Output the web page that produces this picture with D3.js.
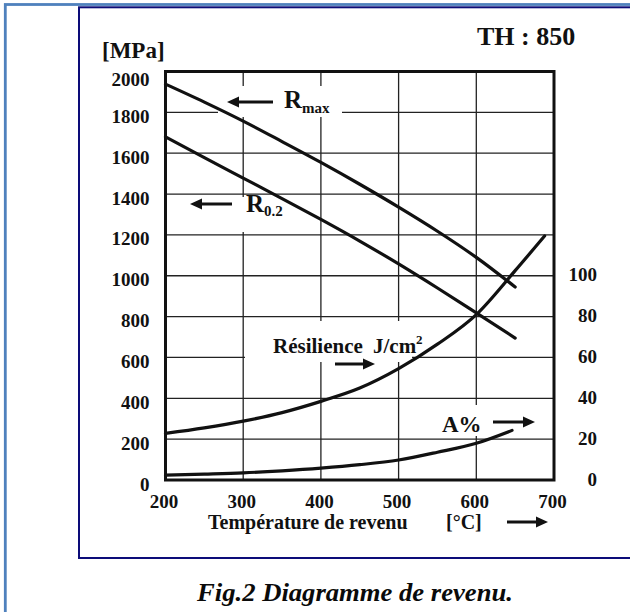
<!DOCTYPE html>
<html>
<head>
<meta charset="utf-8">
<script src="https://cdn.jsdelivr.net/npm/d3@7"></script>
<style>
body { margin: 0; background: #fff; }
text { font-family: "Liberation Serif", "Times New Roman", serif; font-weight: bold; fill: #111; }
</style>
</head>
<body>
<script>
// tempering curves
var temps = [200, 250, 300, 350, 400, 450, 500, 550, 600, 650];
var rMax = [1938, 1850, 1757, 1657, 1555, 1448, 1336, 1218, 1090, 945];
var r02 = [1680, 1578, 1478, 1378, 1276, 1170, 1058, 940, 818, 695];
var resTemps = [200, 250, 300, 350, 400, 450, 500, 550, 600, 650, 688];
var resilience = [22.8, 25.5, 28.8, 33, 38.5, 45, 54.5, 66.5, 81, 102.5, 119.5];
var aTemps = [200, 250, 300, 350, 400, 450, 500, 550, 600, 646];
var elong = [2.4, 2.9, 3.5, 4.5, 5.8, 7.5, 9.8, 13.6, 18, 24.3];
var xTicks = [200, 300, 400, 500, 600, 700];
var yTicks = [0, 200, 400, 600, 800, 1000, 1200, 1400, 1600, 1800, 2000];
var yRightTicks = [0, 20, 40, 60, 80, 100];

var svg = d3.select("body").append("svg")
  .attr("width", 630)
  .attr("height", 612);

// page frames
svg.append("rect")
  .attr("x", 5.3).attr("y", 4.5)
  .attr("width", 700).attr("height", 700)
  .style("fill", "none").style("stroke", "#4f81bd").style("stroke-width", 2.8);
svg.append("rect")
  .attr("x", 79).attr("y", 7.3)
  .attr("width", 600).attr("height", 550.7)
  .style("fill", "none").style("stroke", "#0c0c78").style("stroke-width", 2);

var x = d3.scaleLinear().domain([200, 700]).range([165.5, 554]);
var y = d3.scaleLinear().domain([0, 2000]).range([480, 71.5]);
//right axis shares the grid: 100 J/cm2 sits on 1000 MPa
var yR = d3.scaleLinear().domain([0, 100]).range([480, y(1000)]);
var fmt = d3.format("d");

// grid
var grid = svg.append("g").attr("class", "grid");
grid.selectAll(".hgrid")
  .data(yTicks)
  .enter()
  .append("line")
  .attr("x1", x(200)).attr("x2", x(700))
  .attr("y1", function(d){ return y(d); })
  .attr("y2", function(d){ return y(d); })
  .style("stroke", "#222").style("stroke-width", 1.3);
grid.selectAll(".vgrid")
  .data(xTicks)
  .enter()
  .append("line")
  .attr("x1", function(d){ return x(d); })
  .attr("x2", function(d){ return x(d); })
  .attr("y1", y(0)).attr("y2", y(2000))
  .style("stroke", "#222").style("stroke-width", 1.3);

// white patches behind the annotations (they cut the grid in the scan)
var masks = [[218, 86, 124, 31], [185, 197, 107, 35], [245, 321, 167, 41], [436, 405, 104, 31]];
svg.selectAll(".mask")
  .data(masks)
  .enter()
  .append("rect")
  .attr("x", function(d){ return d[0]; })
  .attr("y", function(d){ return d[1]; })
  .attr("width", function(d){ return d[2]; })
  .attr("height", function(d){ return d[3]; })
  .style("fill", "#fff");

// plot frame
svg.append("rect")
  .attr("x", x(200)).attr("y", y(2000))
  .attr("width", x(700) - x(200)).attr("height", y(0) - y(2000))
  .style("fill", "none").style("stroke", "#111").style("stroke-width", 3);

// axes labels
var leftAxis = svg.append("g")
  .attr("transform", "translate(" + x(200) + ",0)")
  .call(d3.axisLeft(y).tickValues(yTicks).tickFormat(fmt).tickSize(0).tickPadding(16));
leftAxis.select(".domain").remove();
leftAxis.selectAll("text")
  .attr("y", function(d){ return d === 2000 ? 8 : 4; })
  .style("font-size", "19px")
  .style("font-family", "Liberation Serif");

var rightAxis = svg.append("g")
  .attr("transform", "translate(" + x(700) + ",0)")
  .call(d3.axisRight(yR).tickValues(yRightTicks).tickFormat(fmt).tickSize(0));
rightAxis.select(".domain").remove();
rightAxis.selectAll("text")
  .attr("x", 43)
  .attr("y", -1)
  .attr("text-anchor", "end")
  .style("font-size", "19px")
  .style("font-family", "Liberation Serif");

var bottomAxis = svg.append("g")
  .attr("transform", "translate(0," + y(0) + ")")
  .call(d3.axisBottom(x).tickValues(xTicks).tickFormat(fmt).tickSize(0).tickPadding(15));
bottomAxis.select(".domain").remove();
bottomAxis.selectAll("text")
  .attr("x", -2)
  .style("font-size", "19px")
  .style("font-family", "Liberation Serif");

// curves
var lineL = d3.line()
  .x(function(d){ return x(d[0]); })
  .y(function(d){ return y(d[1]); })
  .curve(d3.curveMonotoneX);
var lineR = d3.line()
  .x(function(d){ return x(d[0]); })
  .y(function(d){ return yR(d[1]); })
  .curve(d3.curveMonotoneX);

var curves = [
  lineL(d3.zip(temps, rMax)),
  lineL(d3.zip(temps, r02)),
  lineR(d3.zip(resTemps, resilience)),
  lineR(d3.zip(aTemps, elong))
];
svg.selectAll(".curve")
  .data(curves)
  .enter()
  .append("path")
  .attr("class", "curve")
  .attr("d", function(d){ return d; })
  .style("fill", "none")
  .style("stroke", "#111")
  .style("stroke-width", 3.2)
  .style("stroke-linecap", "round");

// arrows
function arrow(x1, x2, yy){
  var dir = x2 > x1 ? 1 : -1;
  var head = 12;
  svg.append("line")
    .attr("x1", x1).attr("x2", x2 - dir * head + dir)
    .attr("y1", yy).attr("y2", yy)
    .style("stroke", "#111").style("stroke-width", 3);
  svg.append("path")
    .attr("d", "M" + x2 + "," + yy + "L" + (x2 - dir * head) + "," + (yy - 5.5) + "L" + (x2 - dir * head) + "," + (yy + 5.5) + "Z")
    .style("fill", "#111");
}
arrow(273, 227, 102);
arrow(232, 190, 204);
arrow(335, 375, 364);
arrow(493, 535, 422);
arrow(507, 548, 522);

// curve labels
svg.append("text").attr("x", 284).attr("y", 108).style("font-size", "25px").text("R");
svg.append("text").attr("x", 302).attr("y", 113).style("font-size", "15px").text("max");

svg.append("text").attr("x", 246).attr("y", 212).style("font-size", "25px").text("R");
svg.append("text").attr("x", 264).attr("y", 216).style("font-size", "15px").text("0.2");

svg.append("text").attr("x", 273).attr("y", 353).style("font-size", "21px").text("Résilience");
svg.append("text").attr("x", 373).attr("y", 353).style("font-size", "21px").text("J/cm");
svg.append("text").attr("x", 416).attr("y", 344).style("font-size", "13px").text("2");

svg.append("text").attr("x", 442).attr("y", 432).style("font-size", "23px").text("A%");

// titles
svg.append("text").attr("x", 102).attr("y", 58).style("font-size", "23px").text("[MPa]");
svg.append("text").attr("x", 477).attr("y", 45).style("font-size", "26px").text("TH : 850");
svg.append("text").attr("x", 208).attr("y", 529).style("font-size", "20px").text("Température de revenu");
svg.append("text").attr("x", 446).attr("y", 529).style("font-size", "20px").text("[°C]");

svg.append("text")
  .attr("x", 197).attr("y", 601)
  .attr("textLength", 316)
  .attr("lengthAdjust", "spacingAndGlyphs")
  .style("font-size", "25px")
  .style("font-style", "italic")
  .style("fill", "#0a0a0a")
  .text("Fig.2 Diagramme de revenu.");
</script>
</body>
</html>
